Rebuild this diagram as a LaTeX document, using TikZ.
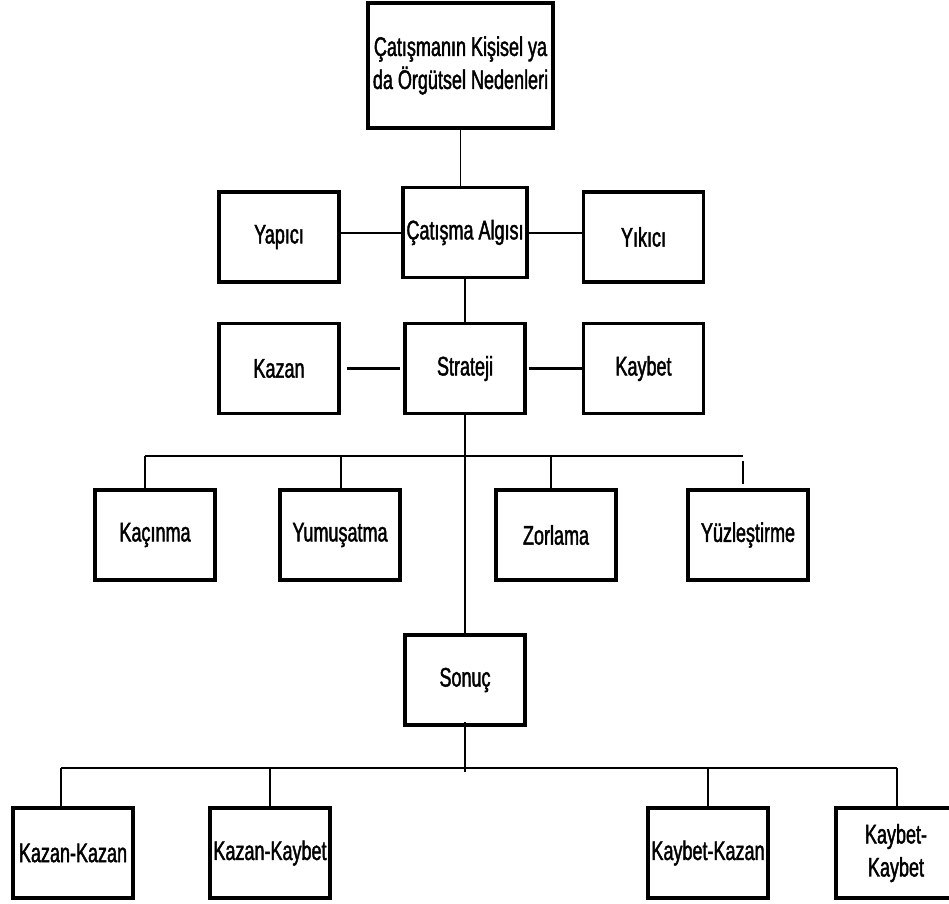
\documentclass[tikz,border=0pt]{standalone}
\usepackage{fontspec}
\setmainfont{Liberation Sans}[FakeStretch=0.67,FakeBold=1.6]
\usetikzlibrary{positioning}

\begin{document}
\begin{tikzpicture}[
  x=0.02cm, y=-0.02cm,
  box/.style={draw, line width=1.8pt, minimum width=2.4cm, minimum height=1.8cm,
              align=center, inner sep=1pt, font=\fontsize{15.3}{18.8}\selectfont},
  link/.style={line width=0.9pt},
  bus/.style={line width=1.2pt}
]
  \useasboundingbox (0,0) rectangle (949,903);

  % Top: causes and perception
  \node[box, minimum width=3.7cm, minimum height=2.5cm] (neden) at (460.5,65.5)
    {Çatışmanın Kişisel ya\\da Örgütsel Nedenleri};
  \node[box, minimum width=2.48cm] (algi) at (465,232.5) {Çatışma Algısı};
  \node[box] (yapici) at (279,237) {Yapıcı};
  \node[box] (yikici) at (643.5,237) {Yıkıcı};

  \draw[link] (neden.south) -- (neden.south |- algi.north);
  \draw[link] (yapici.east |- 0,233) -- (algi.west |- 0,233);
  \draw[link] (algi.east |- 0,233) -- (yikici.west |- 0,233);

  % Strategy row
  \node[box] (strateji) at (465,368.5) {Strateji};
  \node[box] (kazan) at (279,368.5) {Kazan};
  \node[box] (kaybet) at (643.5,368.5) {Kaybet};

  \draw[link] (algi.south) -- (strateji.north);
  \draw[bus, shorten <=0.12cm, shorten >=0.06cm] (kazan.east) -- (strateji.west);
  \draw[bus, shorten <=0.04cm] (strateji.east) -- (kaybet.west);

  % Strategy styles
  \node[box] (kacinma) at (155,535) {Kaçınma};
  \node[box] (yumusatma) at (340,535) {Yumuşatma};
  \node[box] (zorlama) at (556,535) {Zorlama};
  \node[box] (yuzles) at (748,535) {Yüzleştirme};

  \coordinate (s1) at (145,456);
  \coordinate (s2) at (341,456);
  \coordinate (s3) at (551,456);
  \coordinate (s4) at (743,456);
  \draw[bus] (s1) -- (s4);
  \draw[link] (s1) -- (s1 |- kacinma.north);
  \draw[link] (s2) -- (s2 |- yumusatma.north);
  \draw[link] (s3) -- (s3 |- zorlama.north);
  \draw[link] ([yshift=-0.1cm]s4) -- ([yshift=0.08cm]s4 |- yuzles.north);

  % Outcome
  \node[box] (sonuc) at (465,680) {Sonuç};
  \draw[link] (strateji.south) -- (sonuc.north);

  \node[box] (kk) at (73,853) {Kazan-Kazan};
  \node[box] (kkb) at (270,853) {Kazan-Kaybet};
  \node[box] (kbk) at (708,853) {Kaybet-Kazan};
  \node[box] (kbkb) at (896,853) {Kaybet-\\Kaybet};

  \coordinate (o1) at (61,768);
  \coordinate (o2) at (270,768);
  \coordinate (o3) at (708,768);
  \coordinate (o4) at (897,768);
  \draw[link] ([yshift=0.1cm]sonuc.south) -- ([yshift=-0.08cm]sonuc.south |- o1);
  \draw[bus] (o1) -- (o4);
  \draw[link] (o1) -- (o1 |- kk.north);
  \draw[link] (o2) -- (o2 |- kkb.north);
  \draw[link] (o3) -- (o3 |- kbk.north);
  \draw[link] (o4) -- (o4 |- kbkb.north);
\end{tikzpicture}
\end{document}
